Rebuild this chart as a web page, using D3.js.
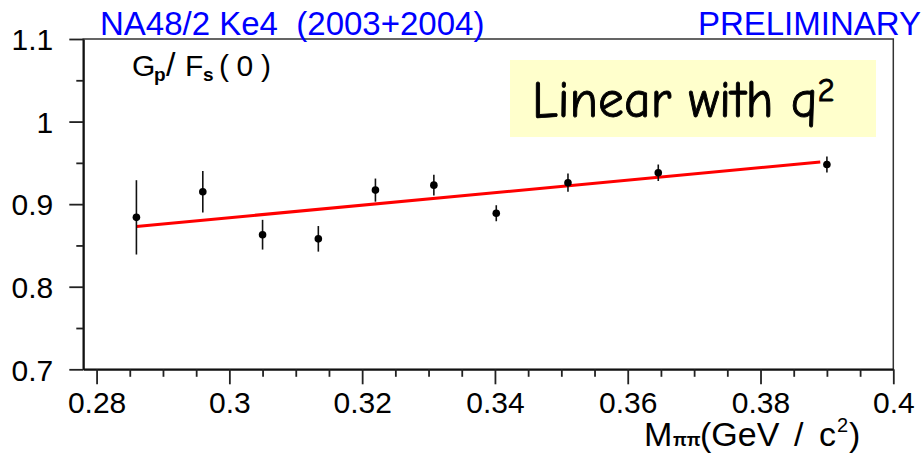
<!DOCTYPE html>
<html><head><meta charset="utf-8">
<script src="https://cdn.jsdelivr.net/npm/d3@7/dist/d3.min.js"></script>
<style>
html,body{margin:0;padding:0;background:#fff;}
svg{display:block;}
text{font-family:"Liberation Sans",Arial,Helvetica,sans-serif;}
</style></head>
<body>
<svg id="chart" width="922" height="455"></svg>
<script>
// ---- data ----
const mpp   = [0.286, 0.296, 0.305, 0.3134, 0.322, 0.3308, 0.3402, 0.351, 0.3646, 0.390];
const ratio = [0.884, 0.915, 0.863, 0.858, 0.917, 0.923, 0.889, 0.926, 0.938, 0.948];
const err   = [0.045, 0.025, 0.018, 0.0155, 0.014, 0.0125, 0.0097, 0.011, 0.010, 0.0097];
const fitX  = [0.286, 0.389];
const fitY  = [0.873, 0.951];
const xTicks = [0.28, 0.30, 0.32, 0.34, 0.36, 0.38, 0.40];
const xTickLabels = ["0.28", "0.3", "0.32", "0.34", "0.36", "0.38", "0.4"];
const xMinor = [0.285,0.29,0.295,0.305,0.31,0.315,0.325,0.33,0.335,0.345,0.35,0.355,0.365,0.37,0.375,0.385,0.39,0.395];
const yTicks = [0.7, 0.8, 0.9, 1.0, 1.1];
const yTickLabels = ["0.7", "0.8", "0.9", "1", "1.1"];
const yMinor = [0.75, 0.85, 0.95, 1.05];
const titleLeft = "NA48/2 Ke4  (2003+2004)";
const titleRight = "PRELIMINARY";
const boxLabel = "Linear with q";

// ---- layout ----
const L = 83.3, R = 893.3, T = 39, B = 369.3;
const x = d3.scaleLinear().domain([0.278, 0.4]).range([L, R]);
const y = d3.scaleLinear().domain([0.7, 1.1]).range([B, T]);
const svg = d3.select("#chart");

// frame
svg.append("rect").attr("x", L).attr("y", T).attr("width", R - L).attr("height", B - T)
  .attr("fill", "none").attr("stroke", "#333").attr("stroke-width", 1.5);

// x axis
const gx = svg.append("g").attr("transform", `translate(0,${B})`)
  .call(d3.axisBottom(x).tickValues(xTicks).tickSize(15).tickSizeOuter(0).tickPadding(7)
    .tickFormat((d, i) => xTickLabels[i]));
svg.append("g").attr("transform", `translate(0,${B})`)
  .call(d3.axisBottom(x).tickValues(xMinor).tickSize(7.5).tickSizeOuter(0).tickFormat(""))
  .select(".domain").remove();

// y axis
const gy = svg.append("g").attr("transform", `translate(${L},0)`)
  .call(d3.axisLeft(y).tickValues(yTicks).tickSize(14).tickSizeOuter(0).tickPadding(16)
    .tickFormat((d, i) => yTickLabels[i]));
svg.append("g").attr("transform", `translate(${L},0)`)
  .call(d3.axisLeft(y).tickValues(yMinor).tickSize(7).tickSizeOuter(0).tickFormat(""))
  .select(".domain").remove();

svg.selectAll(".domain").attr("stroke", "#111").attr("stroke-width", 2);
svg.selectAll(".tick line").attr("stroke", "#222").attr("stroke-width", 1.8);
svg.selectAll(".tick text").attr("font-size", 30).attr("fill", "#000")
  .style("font-family", '"Liberation Sans",Arial,sans-serif');
gy.selectAll(".tick text").attr("dy", "0.36em");

// fit line
svg.append("path")
  .attr("d", d3.line().x(d => x(d[0])).y(d => y(d[1]))(fitX.map((v, i) => [v, fitY[i]])))
  .attr("fill", "none").attr("stroke", "#ff0000").attr("stroke-width", 3);

// error bars and markers
const pts = mpp.map((m, i) => ({m, v: ratio[i], e: err[i]}));
svg.append("g").selectAll("line").data(pts).join("line")
  .attr("x1", d => x(d.m)).attr("x2", d => x(d.m))
  .attr("y1", d => y(d.v + d.e)).attr("y2", d => y(d.v - d.e))
  .attr("stroke", "#111").attr("stroke-width", 1.6);
svg.append("g").selectAll("circle").data(pts).join("circle")
  .attr("cx", d => x(d.m)).attr("cy", d => y(d.v)).attr("r", 3.8).attr("fill", "#000");

// titles
svg.append("text").attr("x", 100).attr("y", 35).attr("font-size", 33).attr("fill", "#0000ff")
  .style("white-space", "pre").text(titleLeft);
svg.append("text").attr("x", 921).attr("y", 35).attr("font-size", 33).attr("fill", "#0000ff")
  .attr("text-anchor", "end").text(titleRight);

// y label G_p/F_s(0)
const gl = svg.append("text").attr("y", 76).attr("font-size", 30).attr("fill", "#000");
gl.append("tspan").attr("x", 132).text("G");
gl.append("tspan").attr("x", 154).attr("dy", 5).attr("font-size", 19).attr("font-weight", "bold").text("p");
gl.append("tspan").attr("x", 166).attr("dy", -5).attr("font-size", 34).attr("font-weight", "normal").text("/");
gl.append("tspan").attr("x", 185).attr("font-size", 30).text("F");
gl.append("tspan").attr("x", 203).attr("dy", 5).attr("font-size", 19).attr("font-weight", "bold").text("s");
gl.append("tspan").attr("x", 219).attr("dy", -5).attr("font-size", 30).attr("font-weight", "normal").text("(");
gl.append("tspan").attr("x", 236.5).text("0");
gl.append("tspan").attr("x", 261).text(")");

// x label M_pipi(GeV/c^2)
const xl = svg.append("text").attr("y", 446).attr("font-size", 34).attr("fill", "#000");
xl.append("tspan").attr("x", 644).text("M");
xl.append("tspan").attr("x", 673).attr("font-size", 18).attr("font-weight", "bold").text("ππ");
xl.append("tspan").attr("x", 700).attr("font-size", 34).attr("font-weight", "normal").text("(GeV");
xl.append("tspan").attr("x", 794).text("/");
xl.append("tspan").attr("x", 819).text("c");
xl.append("tspan").attr("x", 837).attr("dy", -14).attr("font-size", 20).text("2");
xl.append("tspan").attr("x", 849).attr("dy", 14).attr("font-size", 34).text(")");

// yellow box
svg.append("rect").attr("x", 510).attr("y", 60).attr("width", 366).attr("height", 77).attr("fill", "#ffffcc");
const bt = svg.append("text").attr("x", 532).attr("y", 117).attr("font-size", 50).attr("fill", "#000")
  .attr("stroke", "#000").attr("stroke-width", 0.9)
  .style("font-family", '"Comic Sans MS","Comic Neue","DejaVu Sans",sans-serif');
bt.append("tspan").text(boxLabel);
bt.append("tspan").attr("dy", -16).attr("font-size", 32).text("2");
const w = bt.node().getComputedTextLength();
const target = 303;
bt.attr("font-size", 50 * target / w);
bt.select("tspan:nth-child(2)").attr("font-size", 32 * target / w);
</script>
</body></html>
